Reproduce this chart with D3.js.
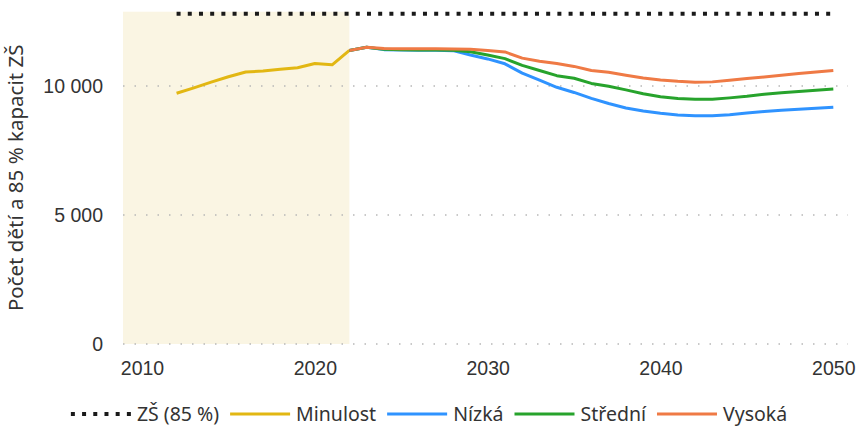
<!DOCTYPE html>
<html>
<head>
<meta charset="utf-8">
<script src="https://cdn.jsdelivr.net/npm/d3@7"></script>
<style>
  body { margin: 0; background: #fff; }
  svg { display: block; font-family: "Noto Sans", sans-serif; }
  .tick-label { fill: #333; font-size: 19.5px; }
</style>
</head>
<body>
<svg id="chart" width="858" height="428"></svg>
<script>
// history 2012-2022
var histYears = [2012, 2013, 2014, 2015, 2016, 2017, 2018, 2019, 2020, 2021, 2022];
var minulost  = [9720, 9930, 10150, 10360, 10540, 10580, 10650, 10710, 10870, 10820, 11380];

// projections 2022-2050
var projYears = [2022, 2023, 2024, 2025, 2026, 2027, 2028, 2029, 2030, 2031, 2032, 2033, 2034, 2035,
  2036, 2037, 2038, 2039, 2040, 2041, 2042, 2043, 2044, 2045, 2046, 2047, 2048, 2049, 2050];
var nizka   = [11380, 11500, 11410, 11400, 11390, 11390, 11370, 11200, 11050, 10860, 10500, 10230, 9950, 9750,
  9520, 9320, 9150, 9030, 8940, 8880, 8850, 8850, 8890, 8950, 9010, 9060, 9100, 9140, 9180];
var stredni = [11380, 11500, 11420, 11410, 11400, 11400, 11390, 11330, 11200, 11060, 10800, 10600, 10400, 10300,
  10100, 9990, 9850, 9700, 9580, 9520, 9490, 9490, 9540, 9600, 9680, 9740, 9790, 9840, 9880];
var vysoka  = [11380, 11500, 11450, 11440, 11440, 11440, 11430, 11420, 11380, 11320, 11080, 10960, 10870, 10760,
  10600, 10530, 10420, 10310, 10230, 10180, 10150, 10160, 10220, 10290, 10350, 10420, 10480, 10540, 10600];

// ZŠ capacity (85 %)
var zsYears = [2012, 2050];
var zsKapacita = [12800, 12800];

var pastEnd = 2022;
var xTicks = [2010, 2020, 2030, 2040, 2050];
var yTicks = [0, 5000, 10000];

var legendItems = [
  { name: 'ZŠ (85 %)', color: '#1a1a1a', dotted: true },
  { name: 'Minulost', color: '#e2b713' },
  { name: 'Nízká', color: '#2f93ff' },
  { name: 'Střední', color: '#27a32c' },
  { name: 'Vysoká', color: '#ef7a45' }
];

var svg = d3.select('#chart');
var plot = { left: 123, right: 848, top: 11.7, bottom: 344 };

var x = d3.scaleLinear().domain([2008.9, 2050.85]).range([plot.left, plot.right]);
var y = d3.scaleLinear().domain([0, 12880]).range([plot.bottom, plot.top]);

var fmt = d3.formatLocale({ decimal: ',', thousands: '\u00a0', grouping: [3], currency: ['', ' Kč'] }).format(',d');

/* shaded past period */
svg.append('rect')
  .attr('x', plot.left)
  .attr('y', plot.top)
  .attr('width', x(pastEnd) - plot.left)
  .attr('height', plot.bottom - plot.top)
  .attr('fill', '#faf5e3');

/* gridlines */
svg.append('g')
  .selectAll('line')
  .data(yTicks)
  .enter().append('line')
  .attr('x1', plot.left)
  .attr('x2', plot.right)
  .attr('y1', function (d) { return y(d); })
  .attr('y2', function (d) { return y(d); })
  .attr('stroke', '#b8b8b8')
  .attr('stroke-width', 1.3)
  .attr('stroke-dasharray', '1.5,10');

/* axes */
var yAxis = svg.append('g')
  .attr('transform', 'translate(' + (plot.left - 6) + ',0)')
  .call(d3.axisLeft(y).tickValues(yTicks).tickFormat(fmt).tickSize(0).tickPadding(14));
yAxis.select('.domain').remove();
yAxis.selectAll('text').attr('class', 'tick-label').attr('font-family', null).attr('font-size', null);

var xAxis = svg.append('g')
  .attr('transform', 'translate(0,' + plot.bottom + ')')
  .call(d3.axisBottom(x).tickValues(xTicks).tickFormat(d3.format('d')).tickSize(0).tickPadding(17));
xAxis.select('.domain').remove();
xAxis.selectAll('text').attr('class', 'tick-label').attr('font-family', null).attr('font-size', null);

svg.append('text')
  .attr('class', 'tick-label')
  .style('font-size', '20.5px')
  .attr('transform', 'translate(23,' + ((plot.top + plot.bottom) / 2) + ') rotate(-90)')
  .attr('text-anchor', 'middle')
  .text('Počet dětí a 85 % kapacit ZŠ');

/* lines */
function drawLine(xs, ys, color, dotted) {
  var line = d3.line()
    .x(function (d, i) { return x(xs[i]); })
    .y(function (d) { return y(d); });
  var path = svg.append('path')
    .datum(ys)
    .attr('d', line)
    .attr('fill', 'none')
    .attr('stroke', color)
    .attr('stroke-linejoin', 'round');
  if (dotted) {
    path.attr('stroke-width', 4).attr('stroke-dasharray', '4,7.2');
  } else {
    path.attr('stroke-width', 3);
  }
}

drawLine(zsYears, zsKapacita, legendItems[0].color, true);
drawLine(histYears, minulost, legendItems[1].color);
drawLine(projYears, nizka, legendItems[2].color);
drawLine(projYears, stredni, legendItems[3].color);
drawLine(projYears, vysoka, legendItems[4].color);

/* legend */
var legend = svg.append('g');
var lx = 0;
legendItems.forEach(function (item) {
  var g = legend.append('g').attr('transform', 'translate(' + lx + ',0)');
  var ln = g.append('line')
    .attr('x1', 0).attr('x2', 60)
    .attr('y1', 0).attr('y2', 0)
    .attr('stroke', item.color);
  if (item.dotted) {
    ln.attr('stroke-width', 4).attr('stroke-dasharray', '4,7.2');
  } else {
    ln.attr('stroke-width', 3);
  }
  var t = g.append('text')
    .attr('class', 'tick-label')
    .attr('x', 66)
    .attr('dy', '0.35em')
    .text(item.name);
  lx += 66 + t.node().getComputedTextLength() + 11;
});
legend.attr('transform', 'translate(' + (429 - (lx - 11) / 2) + ',414)');
</script>
</body>
</html>
